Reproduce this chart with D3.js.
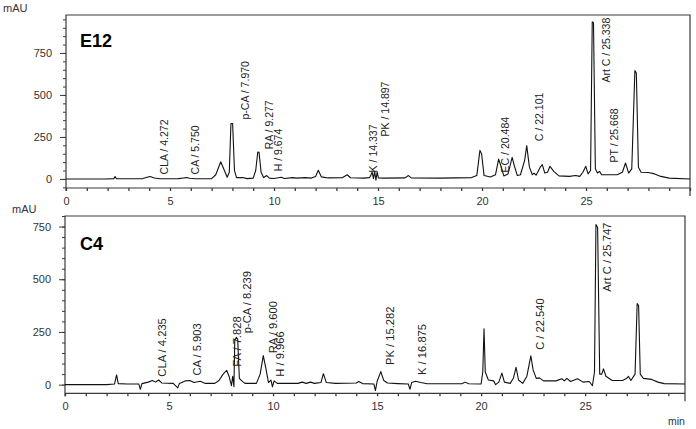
<!DOCTYPE html>
<html>
<head>
<meta charset="utf-8">
<script src="https://cdn.jsdelivr.net/npm/d3@7"></script>
<style>
  html, body { margin: 0; padding: 0; background: #fff; }
  svg { display: block; }
</style>
</head>
<body>
<svg id="chart" width="696" height="429"></svg>
<script>
// ---------------- DATA ----------------
const panelNames = ["E12", "C4"];
const yTickLabels = [0, 250, 500, 750];
const xTickLabels = [0, 5, 10, 15, 20, 25];

// E12 chromatogram: [time (min), absorbance (mAU)]
const e12Trace = [
  [0,0],[1.9,0],[2.3,2],[2.36,14],[2.42,2],[3.0,1],[3.7,2],[3.9,10],[4.04,15],[4.25,6],[4.5,1],
  [5.4,2],[5.65,6],[5.8,8],[5.95,4],[6.2,1],[7.0,2],[7.2,25],[7.44,102],[7.6,55],[7.75,10],
  [7.85,40],[7.93,330],[8.01,330],[8.1,50],[8.2,8],[8.5,8],[8.7,2],[9.0,5],[9.12,50],[9.22,160],
  [9.28,158],[9.38,40],[9.5,8],[9.65,20],[9.78,5],[10.0,3],[10.35,10],[10.5,3],[10.9,8],[11.1,5],
  [11.5,8],[11.8,5],[12.0,15],[12.13,52],[12.28,12],[12.6,6],[13.3,8],[13.52,25],[13.68,7],
  [14.3,5],[14.6,8],[14.72,40],[14.78,2],[14.84,45],[14.9,-8],[14.96,42],[15.02,6],[15.3,5],
  [16.3,6],[16.46,20],[16.6,6],[18.0,5],[19.5,8],[19.75,20],[19.9,170],[19.98,150],[20.1,20],
  [20.4,12],[20.65,25],[20.8,118],[20.9,80],[21.05,18],[21.25,30],[21.45,128],[21.55,80],
  [21.7,20],[21.85,25],[22.05,110],[22.15,198],[22.28,70],[22.42,25],[22.5,35],[22.6,22],
  [22.8,70],[22.9,85],[23.02,35],[23.15,40],[23.27,75],[23.45,45],[23.7,18],[24.2,15],[24.5,20],
  [24.7,15],[24.85,40],[24.99,75],[25.1,30],[25.22,50],[25.3,935],[25.36,930],[25.45,60],
  [25.55,35],[25.65,45],[25.75,25],[26.0,25],[26.5,25],[26.75,40],[26.9,95],[27.05,35],[27.2,60],
  [27.35,645],[27.42,630],[27.52,70],[27.65,40],[28.0,38],[28.3,30],[28.6,15],[29.0,5],[30,0]
];

// C4 chromatogram: [time (min), absorbance (mAU)]
const c4Trace = [
  [0,0],[2.0,0],[2.38,3],[2.48,46],[2.56,5],[3.0,3],[3.55,3],[3.62,-22],[3.7,5],[4.0,12],[4.2,20],
  [4.35,12],[4.5,22],[4.65,8],[5.2,6],[5.42,-15],[5.5,6],[5.8,18],[6.0,20],[6.2,10],[6.5,16],
  [6.75,6],[7.2,6],[7.4,20],[7.6,50],[7.77,68],[7.9,35],[8.0,-5],[8.06,40],[8.12,-10],[8.16,210],
  [8.24,225],[8.3,215],[8.38,30],[8.5,18],[8.65,6],[9.2,6],[9.38,50],[9.53,138],[9.65,80],
  [9.78,10],[9.9,22],[9.97,-10],[10.05,18],[10.2,6],[11.2,6],[11.4,12],[11.6,6],[11.8,12],
  [12.0,6],[12.3,10],[12.42,52],[12.56,10],[13.0,6],[14.0,8],[14.12,15],[14.3,5],[14.85,3],
  [14.92,-28],[15.0,15],[15.18,62],[15.32,20],[15.5,8],[16.0,5],[16.5,3],[16.58,-22],[16.66,10],
  [16.85,16],[17.1,10],[17.4,4],[18.2,4],[19.1,5],[19.23,12],[19.4,4],[20.0,3],[20.08,60],
  [20.14,265],[20.2,60],[20.35,22],[20.6,18],[20.7,0],[20.85,12],[21.0,55],[21.12,12],[21.4,6],
  [21.55,30],[21.68,82],[21.8,22],[22.0,6],[22.2,40],[22.39,137],[22.5,70],[22.65,30],[22.8,32],
  [23.0,18],[23.3,18],[23.6,18],[23.88,28],[24.0,18],[24.12,30],[24.3,15],[24.63,28],[24.9,12],
  [25.2,15],[25.35,-5],[25.45,60],[25.52,760],[25.6,745],[25.7,50],[25.8,50],[25.88,75],[26.0,40],
  [26.3,20],[26.8,20],[27.0,30],[27.08,40],[27.2,20],[27.4,50],[27.5,385],[27.57,375],[27.65,50],
  [27.8,30],[28.2,25],[28.5,12],[28.8,5],[29.8,3]
];

// Peak annotations: [label, time where text sits, mAU level where text starts]
const e12Peaks = [
  ["CLA / 4.272", 4.71, 27],
  ["CA / 5.750", 6.2, 27],
  ["p-CA / 7.970", 8.61, 354],
  ["RA / 9.277", 9.76, 176],
  ["H / 9.674", 10.19, 45],
  ["K / 14.337", 14.76, 39],
  ["PK / 14.897", 15.34, 253],
  ["EC / 20.484", 21.1, 39],
  ["C / 22.101", 22.75, 225],
  ["Art C / 25.338", 26.0, 574],
  ["PT / 25.668", 26.35, 98]
];
const c4Peaks = [
  ["CLA / 4.235", 4.68, 38],
  ["CA / 5.903", 6.33, 43],
  ["FA / 7.828", 8.25, 85],
  ["p-CA / 8.239", 8.74, 244],
  ["RA / 9.600", 9.99, 149],
  ["H / 9.966", 10.34, 38],
  ["PK / 15.282", 15.63, 93],
  ["K / 16.875", 17.15, 46],
  ["C / 22.540", 22.84, 165],
  ["Art C / 25.747", 26.04, 441]
];

// ---------------- DRAW ----------------
const svg = d3.select("#chart");
const FONT = "'Liberation Sans', Arial, sans-serif";
const axisColor = "#3a3a3a";
const textColor = "#333";

const panels = [
  { name: panelNames[0], trace: e12Trace, peaks: e12Peaks,
    xDom: [0, 30], xRange: [66, 690], yDom: [-54, 976], yRange: [188, 15],
    yMinor: d3.range(-50, 951, 50), labelSize: 10.5, mAUx: 3, mAUy: 12, nameY: 47 },
  { name: panelNames[1], trace: c4Trace, peaks: c4Peaks,
    xDom: [0, 29.8], xRange: [65, 685], yDom: [-41, 800], yRange: [393.3, 216],
    yMinor: d3.range(0, 801, 50), labelSize: 11.2, mAUx: 12, mAUy: 213, nameY: 250 }
];

panels.forEach(p => {
  const x = d3.scaleLinear().domain(p.xDom).range(p.xRange);
  const y = d3.scaleLinear().domain(p.yDom).range(p.yRange);
  const g = svg.append("g");
  const x0 = p.xRange[0], x1 = p.xRange[1];
  const yTop = p.yRange[1], yBot = p.yRange[0];

  // frame: left axis line, top line, right line
  g.append("path")
    .attr("d", `M${x0},${yBot + 3}V${yTop}H${x1}V${yBot + 8}`)
    .attr("fill", "none").attr("stroke", axisColor).attr("stroke-width", 1.2);
  // bottom axis line
  g.append("line")
    .attr("x1", x0).attr("x2", x1).attr("y1", yBot).attr("y2", yBot)
    .attr("stroke", axisColor).attr("stroke-width", 1.2);

  // minor y ticks
  const yMinorAxis = d3.axisLeft(y).tickValues(p.yMinor).tickSize(3).tickFormat("");
  const gm = g.append("g").attr("transform", `translate(${x0},0)`).call(yMinorAxis);
  gm.select(".domain").remove();
  gm.selectAll("line").attr("stroke", axisColor);

  // major y ticks
  const yAxis = d3.axisLeft(y).tickValues(yTickLabels).tickSize(6).tickPadding(8);
  const gy = g.append("g").attr("transform", `translate(${x0},0)`).call(yAxis);
  gy.select(".domain").remove();
  gy.selectAll("line").attr("stroke", axisColor);
  gy.selectAll("text").attr("font-family", FONT).attr("font-size", 11).attr("fill", textColor);

  // x axis ticks at every minute, labels every 5
  const xAxis = d3.axisBottom(x)
    .tickValues(d3.range(0, Math.floor(p.xDom[1]) + 1, 1))
    .tickSize(3).tickPadding(6)
    .tickFormat(d => xTickLabels.includes(d) ? d : "");
  const gx = g.append("g").attr("transform", `translate(0,${yBot})`).call(xAxis);
  gx.select(".domain").remove();
  gx.selectAll("line").attr("stroke", axisColor).attr("stroke-width", 1.3);
  gx.selectAll("text").attr("font-family", FONT).attr("font-size", 11).attr("fill", textColor);

  // trace
  const line = d3.line()
    .x(d => x(d[0]))
    .y(d => y(d[1]))
    .curve(d3.curveLinear);
  g.append("path")
    .datum(p.trace)
    .attr("d", line)
    .attr("fill", "none")
    .attr("stroke", "#111")
    .attr("stroke-width", 1.1)
    .attr("stroke-linejoin", "round");

  // peak labels (vertical)
  g.selectAll("text.peak")
    .data(p.peaks)
    .join("text")
    .attr("class", "peak")
    .attr("transform", d => `translate(${x(d[1])},${y(d[2])}) rotate(-90)`)
    .attr("dy", "0.35em")
    .attr("font-family", FONT)
    .attr("font-size", p.labelSize)
    .attr("fill", "#222")
    .text(d => d[0]);

  // panel name
  g.append("text")
    .attr("x", 80).attr("y", p.nameY)
    .attr("font-family", FONT).attr("font-weight", "bold")
    .attr("font-size", 18).attr("fill", "#000")
    .text(p.name);

  // mAU unit label
  g.append("text")
    .attr("x", p.mAUx).attr("y", p.mAUy)
    .attr("font-family", FONT).attr("font-size", 11).attr("fill", textColor)
    .text("mAU");
});

// min unit
svg.append("text")
  .attr("x", 668).attr("y", 425)
  .attr("font-family", FONT).attr("font-size", 10.5).attr("fill", textColor)
  .text("min");
</script>
</body>
</html>
